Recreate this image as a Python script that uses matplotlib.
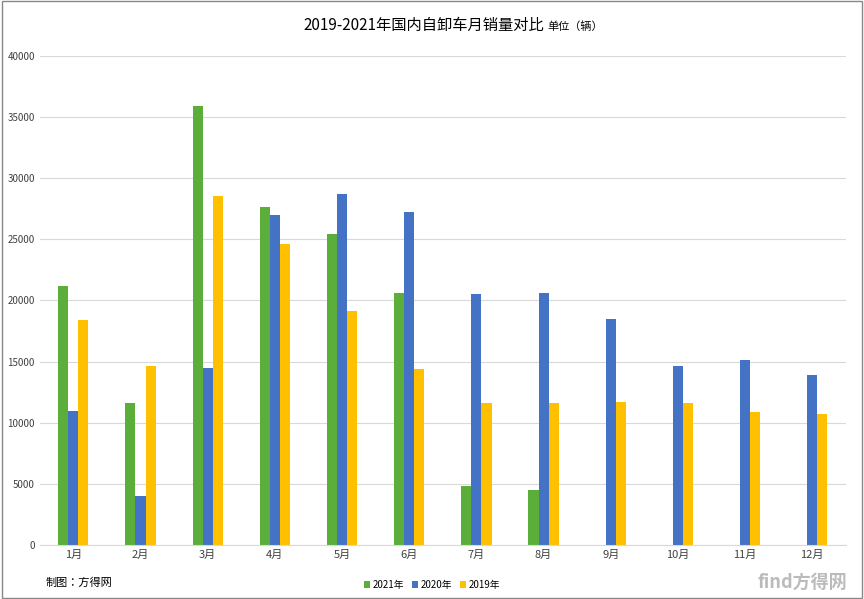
import matplotlib
matplotlib.use("Agg")
import matplotlib.pyplot as plt
from matplotlib import font_manager as fm
import numpy as np

cands = [f.name for f in fm.fontManager.ttflist if 'CJK' in f.name]
fam = 'Noto Sans CJK SC' if 'Noto Sans CJK SC' in cands else (cands[0] if cands else 'DejaVu Sans')
plt.rcParams['font.family'] = [fam, 'DejaVu Sans']

months = ['1月','2月','3月','4月','5月','6月','7月','8月','9月','10月','11月','12月']
s2021 = [21200, 11600, 35900, 27600, 25400, 20600, 4800, 4500, None, None, None, None]
s2020 = [11000, 4000, 14500, 27000, 28700, 27200, 20500, 20600, 18500, 14600, 15100, 13900]
s2019 = [18400, 14600, 28500, 24600, 19100, 14400, 11600, 11600, 11700, 11600, 10900, 10700]

fig = plt.figure(figsize=(8.64, 5.99), dpi=100)
ax = fig.add_axes([0.046, 0.09, 0.933, 0.817])
x = np.arange(len(months))
w = 0.15
v21 = [np.nan if v is None else v for v in s2021]
ax.bar(x - w, v21, w, color='#5BAE3A', label='2021年')
ax.bar(x, s2020, w, color='#4472C4', label='2020年')
ax.bar(x + w, s2019, w, color='#FFC000', label='2019年')
ax.set_xlim(-0.5, 11.5)
ax.set_ylim(0, 40000)
ax.set_yticks(range(0, 40001, 5000))
ax.tick_params(axis='y', labelsize=7, length=0, colors='#404040')
ax.tick_params(axis='x', labelsize=8, length=0, colors='#404040')
ax.set_xticks(x)
ax.set_xticklabels(months)
ax.grid(axis='y', color='#D9D9D9', linewidth=0.8)
ax.set_axisbelow(True)
for s in ['top', 'right', 'left']:
    ax.spines[s].set_visible(False)
ax.spines['bottom'].set_color('#D9D9D9')
fig.text(0.63, 0.958, '2019-2021年国内自卸车月销量对比', ha='right', va='center', fontsize=11)
fig.text(0.633, 0.956, '单位（辆）', ha='left', va='center', fontsize=8)
fig.legend(loc='lower center', bbox_to_anchor=(0.5, 0.0), ncol=3, frameon=False, fontsize=7, handlelength=0.6, handletextpad=0.3, columnspacing=0.8)
fig.text(0.053, 0.028, '制图：方得网', fontsize=8, va='center')
fig.text(0.98, 0.028, 'find方得网', fontsize=13, color='#BBBBBB', ha='right', va='center', fontweight='bold')
fig.patches.append(plt.Rectangle((0.002, 0.002), 0.996, 0.996, transform=fig.transFigure, fill=False, edgecolor='#888888', linewidth=1))
fig.savefig('out.png', dpi=100)
